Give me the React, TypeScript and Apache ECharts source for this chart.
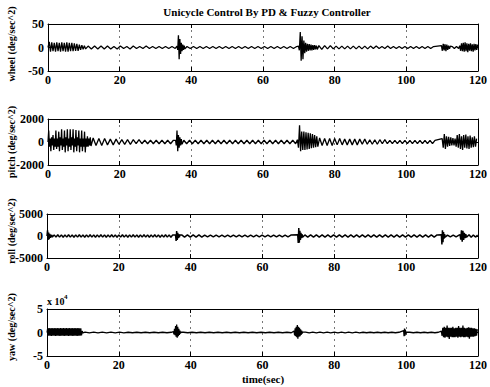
import React, { useEffect, useRef } from 'react';
import * as echarts from 'echarts';

const titleText = 'Unicycle Control By PD & Fuzzy Controller';
const xLabelText = 'time(sec)';
const xTicks = [0, 20, 40, 60, 80, 100, 120];
const yNames = ['wheel (deg/sec^2)', 'pitch (deg/sec^2)', 'roll (deg/sec^2)', 'yaw (deg/sec^2)'];
const yLimits = [50, 2000, 5000, 50000];
const yawScale = 10000;

// segments: [startTime, timeStep, values]
type Seg = [number, number, number[]];

const wheelSegs: Seg[] = [
  [0, 0.35, [0, 12, -9, 11, -8, 10, -9, 11, -8, 10, -9, 11, -8, 10, -9, 11, -9, 10, -8, 10, -8, 9, -7, 8, -7, 6, -5, 5, -4, 4, -3]],
  [11.2, 0.9, [3, -3, 3, -3, 3, -3, 3, -3, 2, -3, 3, -2, 2, -3, 3, -2, 2, -2, 3, -2, 2, -2, 2, -2, 2, -2, 2, -2]],
  [36.0, 0.2, [3, -5, 26, -25, 18, -14, 10, -8, 6, -5, 4, -3]],
  [38.8, 0.9, [2, -2, 2, -2, 2, -2, 2, -2, 2, -2, 2, -2, 2, -2, 2, -2, 2, -2, 2, -2, 2, -2, 2, -2, 2, -2, 2, -2, 2, -2, 2, -2, 2, -2, 2]],
  [69.9, 0.25, [3, -6, 33, -28, 24, -25, 15, -12, 10, -9, 8, -7, 7, -6, 6, -6, 5, -5, 5, -4, 4, -4]],
  [75.6, 0.8, [4, -4, 4, -3, 4, -3, 3, -3, 3, -3, 3, -3, 3, -3, 3, -3, 3, -3, 3, -2, 3, -2, 2, -2, 3, -2, 2, -2, 2, -2, 2, -2, 2, -2, 2, -2, 2, -2, 2, -2, 2]],
  [109.8, 0.25, [4, -7, 8, -6, 7, -8, 6, -5, 4, -3, 3]],
  [112.8, 0.6, [2, -2, 2, -2]],
  [114.9, 0.25, [4, -7, 9, -8, 10, -9, 11, -8, 9, -10, 8, -7, 9, -8, 7, -9, 8, -6, 7, -5, 6]],
];

const pitchSegs: Seg[] = [
  [0, 0.2, [0, 1000, -400, 300, -800, 400, -300, 600, -700, 300, -400, 1000, -600, 300, -400, 900, -800, 400, -300, 1100, -700, 300, -400, 1000, -900, 400, -300, 1100, -800, 300, -400, 1100, -700, 400, -300, 1100, -900, 300, -400, 1050, -800, 400, -300, 1000, -900, 300, -400, 1000, -800, 300, -400, 900, -900, 300, -400, 500, -400, 300, -300, 400, -350]],
  [12.6, 0.8, [350, -300, 300, -300, 300, -250, 250, -250, 250, -200, 200, -200, 200, -200, 200, -150, 200, -150, 150, -150, 150, -150, 150, -150, 150, -150, 150, -150, 150]],
  [35.6, 0.2, [150, -300, 1000, -800, 600, -500, 400, -300, 250, -200]],
  [37.9, 0.8, [150, -150, 150, -150, 150, -150, 150, -150, 150, -150, 150, -150, 150, -150, 150, -150, 150, -150, 150, -150, 150, -150, 150, -150, 150, -150, 150, -150, 150, -150, 150, -150, 150, -150, 150, -150, 150, -150, 150, -150]],
  [69.6, 0.3, [200, -500, 1450, -800, 900, -700, 900, -700, 850, -650, 800, -600, 750, -550, 700, -500, 600, -450, 500, -400]],
  [75.8, 0.7, [350, -300, 300, -300, 300, -300, 300, -250, 300, -250, 250, -250, 250, -250, 250, -250, 250, -200, 250, -200, 200, -200, 200, -200, 200, -150, 200, -150, 150, -150, 150, -150, 150, -150, 150, -150, 150, -150, 150, -150, 150, -150, 150, -150, 150, -150, 150]],
  [110.0, 0.3, [300, -500, 700, -600, 500, -400, 450, -350, 400, -300, 350, -300, 300, -400, 600, -500, 700, -600, 500, -700, 600, -500, 650, -550, 500, -600, 550, -500, 400, -450, 500, -400, 300]],
];

const rollSegs: Seg[] = [
  [0, 0.15, [0, 1300, -900, 800, -700, 500, -400, 300, -300, 250, -250]],
  [2.0, 0.5, [250, -250, 300, -250, 250, -300, 250, -250, 300, -250, 250, -300, 250, -250, 300, -250, 250, -300, 250, -250, 300, -250, 250, -300, 250, -250, 300, -250, 250, -300, 250, -250, 300, -250, 250, -300, 250, -250, 300, -250, 250, -300, 250, -250, 300, -250, 250, -300, 250, -250, 300, -250, 250, -300, 250, -250, 300, -250, 250, -300, 250, -250, 300, -250, 250, -300, 250]],
  [35.8, 0.15, [200, -1100, 1100, -900, 700, -500, 400, -300, 250]],
  [37.5, 0.8, [250, -250, 250, -250, 250, -250, 250, -250, 200, -200, 200, -200, 200, -200, 200, -200, 200, -200, 200, -200, 200, -200, 200, -200, 200, -200, 200, -200, 200, -200, 200, -200, 200, -200, 200, -200, 200, -200, 200]],
  [69.8, 0.15, [300, -1600, 1800, -1500, 1200, -900, 700, -500, 400, -300]],
  [71.8, 0.8, [250, -250, 250, -250, 250, -250, 250, -250, 250, -250, 250, -250, 250, -250, 250, -250, 250, -250, 250, -250, 250, -250, 250, -250, 250, -250, 250, -250, 250, -250, 250, -250, 250, -250, 250, -250, 250, -250, 250, -250, 250, -250, 250, -250, 250, -250, 250]],
  [109.8, 0.15, [300, -1900, 1300, -1400, 900, -600, 400, -300]],
  [111.5, 0.8, [200, -200, 200, -200, 200]],
  [115.0, 0.2, [300, -800, 1300, -1300, 1200, -900, 700, -500, 400, -300]],
  [117.5, 0.6, [300, -300, 250, -250, 200]],
];

const yawSegs: Seg[] = [
  [0, 0.2, [0, 9000, -7000, 9500, -7000, 9000, -7500, 9500, -7000, 9000, -7000, 9500, -7500, 9000, -7000, 9500, -7000, 9000, -7500, 9500, -7000, 9000, -7000, 9500, -7500, 9000, -7000, 9500, -7000, 9000, -7500, 9500, -7000, 9000, -7000, 9500, -7500, 9000, -7000, 9500, -7000, 9000, -7500, 9500, -7000, 9000, -7000, 9000, -6000, 3000, -1000]],
  [10.6, 1.2, [700, -700, 700, -700, 600, -600, 600, -600, 600, -600, 500, -500, 500, -500, 500, -500, 500, -500, 500, -500, 500]],
  [35.2, 0.15, [2000, -4000, 8000, -6000, 14000, -9000, 17000, -11000, 12000, -8000, 8000, -5000, 4000, -2000, 1000]],
  [38.0, 1.2, [500, -500, 500, -500, 500, -500, 500, -500, 500, -500, 500, -500, 500, -500, 500, -500, 500, -500, 500, -500, 500, -500, 500, -500, 500, -500]],
  [68.8, 0.15, [3000, -6000, 9000, -8000, 12000, -10000, 16000, -13000, 12000, -9000, 10000, -8000, 7000, -5000, 4000, -2000, 1000]],
  [72.0, 1.0, [900, -900, 800, -800, 800, -800, 700, -700, 700, -700, 600, -600, 600, -600, 600, -600, 500, -500, 500, -500, 500, -500, 500, -500, 500, -500, 500]],
  [99.3, 0.12, [4000, -8000, 8500, -7000, 6000, -4000, 1000]],
  [101.0, 1.0, [500, -500, 500, -500, 500, -500, 500, -500, 500]],
  [109.8, 0.2, [3000, -7000, 10000, -10000, 12000, -11000, 10000, -9000, 15000, -10000, 10000, -14000, 10000, -9000, 10000, -10000, 12000, -10000, 9000, -10000, 10000, -9000, 10000, -11000, 14000, -9000, 10000, -10000, 10000, -9000, 15000, -10000, 10000, -10000, 9000, -9000, 10000, -10000, 11000, -13000, 10000, -9000, 10000, -9000, 9000, -9000, 9000, -8000, 8000, -7000, 7000]],
];

const allSegs = [wheelSegs, pitchSegs, rollSegs, yawSegs];

const boxes = [
  { left: 48, top: 24, width: 434, height: 47 },
  { left: 48, top: 119, width: 434, height: 46 },
  { left: 47, top: 214, width: 435, height: 44 },
  { left: 47, top: 309, width: 435, height: 47 },
];
const yNameCenters = [44, 142, 231, 327];
const lineWidths = [1.3, 1.3, 1.5, 1.3];

const serif = "'Liberation Serif', 'DejaVu Serif', serif";

function segsToData(segs: Seg[]): [number, number][] {
  const out: [number, number][] = [];
  segs.forEach(([t0, dt, vals]) => {
    vals.forEach((v, i) => out.push([+(t0 + i * dt).toFixed(3), v]));
  });
  return out;
}

export default function App() {
  const ref = useRef<HTMLDivElement>(null);
  useEffect(() => {
    if (!ref.current) return;
    const chart = echarts.init(ref.current, undefined, { renderer: 'svg' });
    const axisLine = { show: true, onZero: false, lineStyle: { color: '#000', width: 1 } };
    const tick = { show: true, inside: true, length: 4, lineStyle: { color: '#000', width: 1 } };
    const grids: any[] = [];
    const xAxes: any[] = [];
    const yAxes: any[] = [];
    const series: any[] = [];
    boxes.forEach((b, i) => {
      grids.push({ ...b, containLabel: false });
      const L = yLimits[i];
      xAxes.push({
        gridIndex: i, type: 'value', min: 0, max: 120, interval: 20, position: 'bottom',
        axisLine, axisTick: tick,
        axisLabel: {
          color: '#000', fontFamily: serif, fontWeight: 'bold', fontSize: 12, margin: 3,
          formatter: (v: number) => (xTicks.includes(v) ? String(v) : ''),
        },
        splitLine: { show: true, lineStyle: { color: '#777', type: [2, 4], width: 1 } },
      });
      xAxes.push({
        gridIndex: i, type: 'value', min: 0, max: 120, interval: 20, position: 'top',
        axisLine, axisTick: tick, axisLabel: { show: false }, splitLine: { show: false },
      });
      yAxes.push({
        gridIndex: i, type: 'value', min: -L, max: L, interval: L, position: 'left',
        axisLine, axisTick: tick,
        axisLabel: {
          color: '#000', fontFamily: serif, fontWeight: 'bold', fontSize: 12, margin: 4,
          formatter: (v: number) => (i === 3 ? String(v / yawScale) : String(v)),
        },
        splitLine: { show: false },
      });
      yAxes.push({
        gridIndex: i, type: 'value', min: -L, max: L, interval: L, position: 'right',
        axisLine, axisTick: tick, axisLabel: { show: false }, splitLine: { show: false },
      });
      series.push({
        type: 'line', xAxisIndex: 2 * i, yAxisIndex: 2 * i,
        data: segsToData(allSegs[i]), showSymbol: false, symbol: 'none',
        lineStyle: { color: '#000', width: lineWidths[i] }, z: 3,
      });
    });
    const graphics: any[] = [
      {
        type: 'text', x: 267, y: 12,
        style: { text: titleText, fill: '#000', font: `bold 11px ${serif}`, align: 'center', verticalAlign: 'middle' },
      },
      {
        type: 'text', x: 263, y: 379,
        style: { text: xLabelText, fill: '#000', font: `bold 11px ${serif}`, align: 'center', verticalAlign: 'middle' },
      },
      {
        type: 'text', x: 47, y: 301,
        style: { text: 'x 10', fill: '#000', font: `bold 10px ${serif}`, align: 'left', verticalAlign: 'middle' },
      },
      {
        type: 'text', x: 64, y: 297,
        style: { text: '4', fill: '#000', font: `bold 7px ${serif}`, align: 'left', verticalAlign: 'middle' },
      },
    ];
    yNames.forEach((n, i) => {
      graphics.push({
        type: 'text', x: 11, y: yNameCenters[i], rotation: Math.PI / 2,
        style: { text: n, fill: '#000', font: `bold 10px ${serif}`, align: 'center', verticalAlign: 'middle' },
      });
    });
    chart.setOption({
      animation: false,
      backgroundColor: '#fff',
      grid: grids,
      xAxis: xAxes,
      yAxis: yAxes,
      series,
      graphic: graphics,
    });
    return () => chart.dispose();
  }, []);
  return <div ref={ref} style={{ position: 'absolute', left: 0, top: 0, width: 490, height: 387 }} />;
}
